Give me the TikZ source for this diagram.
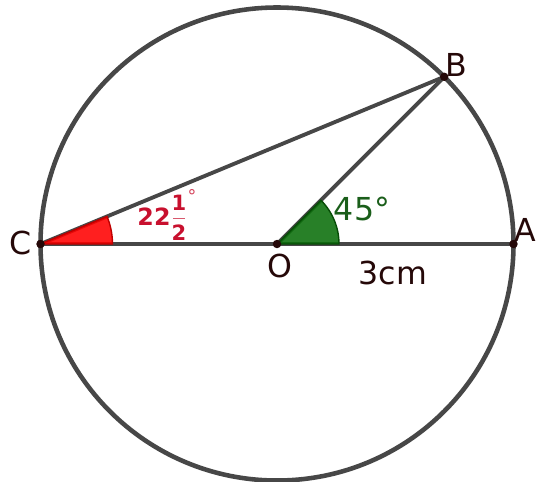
\documentclass[tikz,border=0pt]{standalone}
\usepackage{fontspec}
\usetikzlibrary{calc}
\setmainfont{DejaVu Sans}
\definecolor{segc}{HTML}{474747}
\definecolor{lbl}{HTML}{250808}
\definecolor{angred}{HTML}{FF0000}
\definecolor{txtred}{HTML}{C8102E}
\definecolor{angreen}{HTML}{0A6E0A}
\definecolor{txtgreen}{HTML}{1A5E1A}
\begin{document}
\begin{tikzpicture}[x=0.02cm,y=-0.02cm,
  segline/.style={draw=segc, line width=2.2pt},
  ptdot/.style={circle, fill=lbl, inner sep=0pt, minimum size=4.8pt},
  ptlabel/.style={text=lbl, font=\fontsize{18}{20}\selectfont, inner sep=0pt},
  redlbl/.style={text=txtred, font=\bfseries\fontsize{13.5}{15}\selectfont, inner sep=0pt},
  redfrac/.style={text=txtred, font=\bfseries\fontsize{12}{13}\selectfont, inner sep=0pt}]
\useasboundingbox (0,0) rectangle (536,481);
\coordinate (O) at (277,244);
\coordinate (C) at (40.5,244);
\coordinate (A) at (513.5,244);
\coordinate (B) at ($(O)+(-45:236.5)$);
% circle
\draw[segc, line width=2.6pt] (O) circle[radius=236.5];
% segments
\draw[segline] (C) -- (A);
\draw[segline] (C) -- (B);
\draw[segline] (O) -- (B);
% angle sectors
\filldraw[fill=angred, fill opacity=0.88, draw=angred!75!black, line width=0.8pt]
  (C) -- ++(0:72) arc[start angle=0, end angle=-22.5, radius=72] -- cycle;
\filldraw[fill=angreen, fill opacity=0.88, draw=angreen!70!black, line width=0.8pt]
  (O) -- ++(0:62) arc[start angle=0, end angle=-45, radius=62] -- cycle;
% points
\node[ptdot] (Od) at (O) {};
\node[ptdot] (Cd) at (C) {};
\node[ptdot] (Ad) at (A) {};
\node[ptdot] (Bd) at (B) {};
% labels
\node[ptlabel] (lC) at (21,243) {C};
\node[ptlabel] (lO) at (280,266) {O};
\node[ptlabel] (lB) at (456,65) {B};
\node[ptlabel, anchor=east] (lA) at (536,230) {A};
\node[ptlabel] (l3) at (393,273) {3cm};
\node[text=txtgreen, font=\fontsize{18}{20}\selectfont, inner sep=0pt] (l45) at (362,209) {45°};
\node[redlbl] (n22) at (154,217) {22};
\node[redfrac] (n1) at (179,203) {1};
\node[redfrac] (n2) at (179,233) {2};
\draw[txtred!70!white, line width=0.5pt] (173,218.5) -- (185,218.5);
\node[text=txtred!80!white, font=\fontsize{10}{12}\selectfont, inner sep=0pt] (ndeg) at (192,196) {°};
\end{tikzpicture}
\end{document}
